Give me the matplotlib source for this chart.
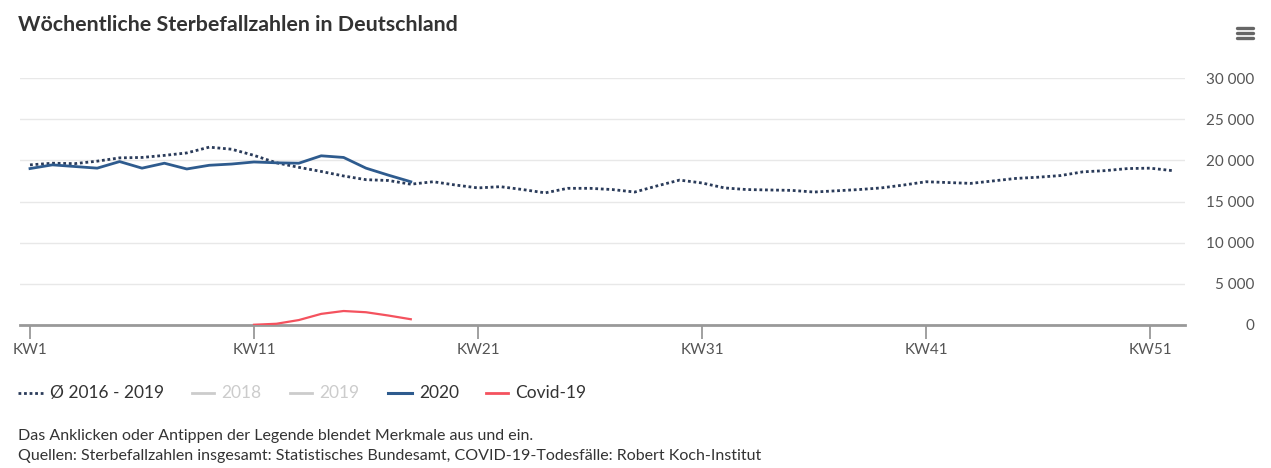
import numpy as np
import matplotlib
matplotlib.use("Agg")
import matplotlib.pyplot as plt
from matplotlib.lines import Line2D
from matplotlib.ticker import FuncFormatter

plt.rcParams['font.family'] = ['Lato', 'DejaVu Sans']

# weekly deaths, average 2016-2019 (KW1..KW52)
avg_2016_2019 = [19450, 19650, 19600, 19900, 20300, 20350, 20600, 20900, 21600, 21350,
                 20600, 19700, 19150, 18650, 18100, 17650, 17550, 17100, 17400, 17000,
                 16650, 16800, 16450, 16050, 16600, 16600, 16450, 16150, 16900, 17600,
                 17250, 16650, 16450, 16400, 16350, 16150, 16300, 16450, 16650, 17000,
                 17400, 17300, 17200, 17500, 17800, 17950, 18150, 18600, 18750, 19000,
                 19050, 18750]
# 2020 (KW1..KW18)
deaths_2020 = [19000, 19450, 19250, 19050, 19850, 19050, 19650, 18950, 19400, 19550,
               19800, 19700, 19650, 20550, 20350, 19050, 18200, 17400]
# Covid-19 deaths (KW11..KW18)
covid_weeks = list(range(11, 19))
covid_deaths = [30, 150, 600, 1350, 1700, 1550, 1150, 700]

tick_weeks = [1, 11, 21, 31, 41, 51]
tick_labels = ['KW1', 'KW11', 'KW21', 'KW31', 'KW41', 'KW51']
legend_labels = ['Ø 2016 - 2019', '2018', '2019', '2020', 'Covid-19']

c_avg = '#2a3b5a'
c_2020 = '#2e5b8e'
c_covid = '#f4525e'
c_fade = '#cccccc'
c_text = '#333333'

W, H = 1271, 468
fig = plt.figure(figsize=(W / 100, H / 100), dpi=100)
ax = fig.add_axes([20 / W, 1 - 325 / H, 1165 / W, 247 / H])

weeks_avg = np.arange(1, len(avg_2016_2019) + 1)
weeks_2020 = np.arange(1, len(deaths_2020) + 1)
ax.plot(weeks_avg, avg_2016_2019, color=c_avg, lw=2, ls=(0, (1, 1)), zorder=3)
ax.plot(weeks_2020, deaths_2020, color=c_2020, lw=2, zorder=4)
ax.plot(covid_weeks, covid_deaths, color=c_covid, lw=1.6, zorder=4)

ax.set_xlim(1 - 10 / 22.4, 1 + 1155 / 22.4)
ax.set_ylim(0, 30000)
ax.set_yticks(range(0, 30001, 5000))
ax.yaxis.set_major_formatter(FuncFormatter(lambda v, p: f'{int(v):,}'.replace(',', ' ')))
ax.yaxis.tick_right()
ax.tick_params(axis='y', length=0, pad=50, labelsize=11, labelcolor='#555555')
for lab in ax.get_yticklabels():
    lab.set_horizontalalignment('right')

ax.set_xticks(tick_weeks)
ax.set_xticklabels(tick_labels)
ax.tick_params(axis='x', length=10, width=1.3, color='#999999', labelsize=11,
               labelcolor='#555555', pad=3)

ax.grid(axis='y', color='#e8e8e8', lw=1)
ax.set_axisbelow(True)
for s in ['top', 'right', 'left']:
    ax.spines[s].set_visible(False)
ax.spines['bottom'].set_color('#999999')
ax.spines['bottom'].set_linewidth(2)
ax.spines['bottom'].set_zorder(2)

fig.text(18 / W, 1 - 25 / H, 'Wöchentliche Sterbefallzahlen in Deutschland',
         fontsize=15.4, fontweight='bold', color=c_text, va='center')

# menu icon
for yy in [28, 33, 38]:
    fig.add_artist(Line2D([1237 / W, 1253 / W], [1 - yy / H] * 2,
                          color='#666666', lw=2.4, solid_capstyle='round'))

# legend, drawn item by item
leg_y = 1 - 393 / H
leg_items = [
    (18, 43, dict(color=c_avg, lw=2, ls=(0, (1, 1))), c_text),
    (192, 214, dict(color=c_fade, lw=2), c_fade),
    (290, 312, dict(color=c_fade, lw=2), c_fade),
    (388, 412, dict(color=c_2020, lw=2.2), c_text),
    (486, 508, dict(color=c_covid, lw=2), c_text),
]
for (x0, x1, style, tcol), lab in zip(leg_items, legend_labels):
    fig.add_artist(Line2D([x0 / W, x1 / W], [leg_y, leg_y], **style))
    fig.text((x1 + 7) / W, leg_y, lab, fontsize=12.5, color=tcol, va='center')

fig.text(18 / W, 1 - 436 / H, 'Das Anklicken oder Antippen der Legende blendet Merkmale aus und ein.',
         fontsize=11.5, color=c_text, va='center')
fig.text(18 / W, 1 - 456 / H,
         'Quellen: Sterbefallzahlen insgesamt: Statistisches Bundesamt, COVID-19-Todesfälle: Robert Koch-Institut',
         fontsize=11.5, color=c_text, va='center')

fig.savefig('out.png', dpi=100)
